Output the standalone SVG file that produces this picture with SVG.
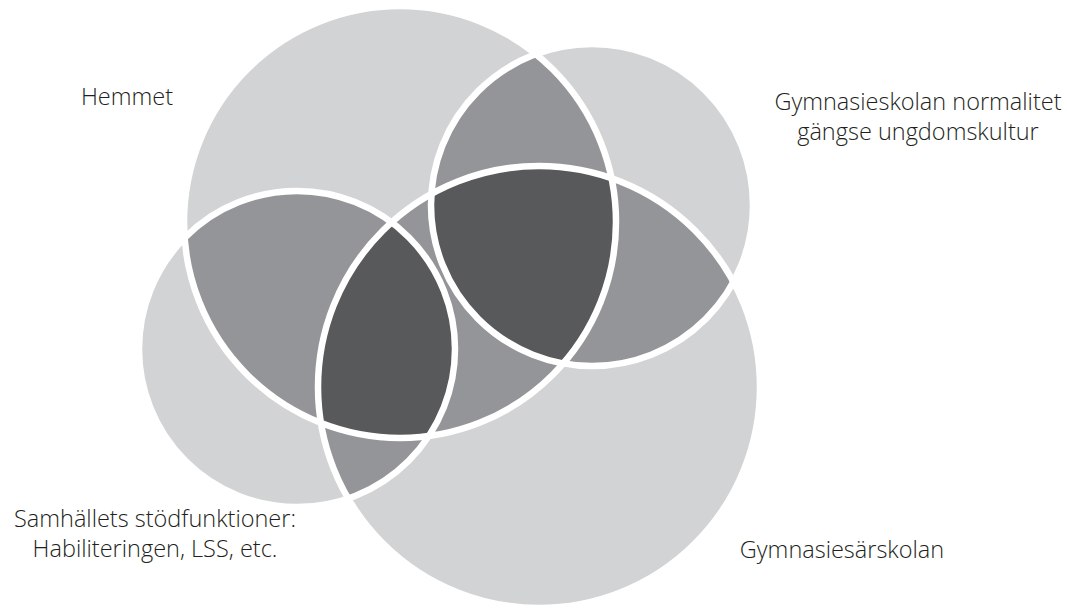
<svg xmlns="http://www.w3.org/2000/svg" width="1067" height="609" viewBox="0 0 1067 609">
  <style>
    .base { fill: #d1d3d4; }
    .two { fill: #939598; }
    .three { fill: #58595b; }
    .ring { fill: none; stroke: #ffffff; stroke-width: 6.5; }
    .label { font-family: "Open Sans", "Liberation Sans", sans-serif; font-weight: 300; font-size: 23.5px; fill: #231f20; text-anchor: middle; }
  </style>
  <defs>
    <clipPath id="clipH"><circle cx="400" cy="222" r="216"/></clipPath>
    <clipPath id="clipG"><circle cx="592" cy="205" r="161"/></clipPath>
    <clipPath id="clipS"><circle cx="297" cy="349" r="158"/></clipPath>
    <clipPath id="clipA"><circle cx="539" cy="387" r="221"/></clipPath>
  </defs>
  <rect x="0" y="0" width="1067" height="609" fill="#ffffff"/>

  <g id="node-hemmet">
    <circle class="base" cx="400" cy="222" r="216"/>
    <text class="label" x="127" y="105">Hemmet</text>
  </g>
  <g id="node-gymnasieskolan">
    <circle class="base" cx="592" cy="205" r="161"/>
    <text class="label" x="918" y="110">Gymnasieskolan normalitet</text>
    <text class="label" x="918" y="140">gängse ungdomskultur</text>
  </g>
  <g id="node-samhallet">
    <circle class="base" cx="297" cy="349" r="158"/>
    <text class="label" x="155" y="527">Samhällets stödfunktioner:</text>
    <text class="label" x="155" y="557">Habiliteringen, LSS, etc.</text>
  </g>
  <g id="node-gymnasiesarskolan">
    <circle class="base" cx="539" cy="387" r="221"/>
    <text class="label" x="842" y="558">Gymnasiesärskolan</text>
  </g>

  <g id="overlaps-two">
    <circle class="two" cx="592" cy="205" r="161" clip-path="url(#clipH)"/>
    <circle class="two" cx="297" cy="349" r="158" clip-path="url(#clipH)"/>
    <circle class="two" cx="539" cy="387" r="221" clip-path="url(#clipH)"/>
    <circle class="two" cx="539" cy="387" r="221" clip-path="url(#clipG)"/>
    <circle class="two" cx="539" cy="387" r="221" clip-path="url(#clipS)"/>
  </g>
  <g id="overlaps-three">
    <g clip-path="url(#clipH)">
      <circle class="three" cx="592" cy="205" r="161" clip-path="url(#clipA)"/>
      <circle class="three" cx="297" cy="349" r="158" clip-path="url(#clipA)"/>
    </g>
  </g>

  <g id="connectors">
    <circle class="ring" cx="400" cy="222" r="216"/>
    <circle class="ring" cx="592" cy="205" r="161"/>
    <circle class="ring" cx="297" cy="349" r="158"/>
    <circle class="ring" cx="539" cy="387" r="221"/>
  </g>
</svg>
